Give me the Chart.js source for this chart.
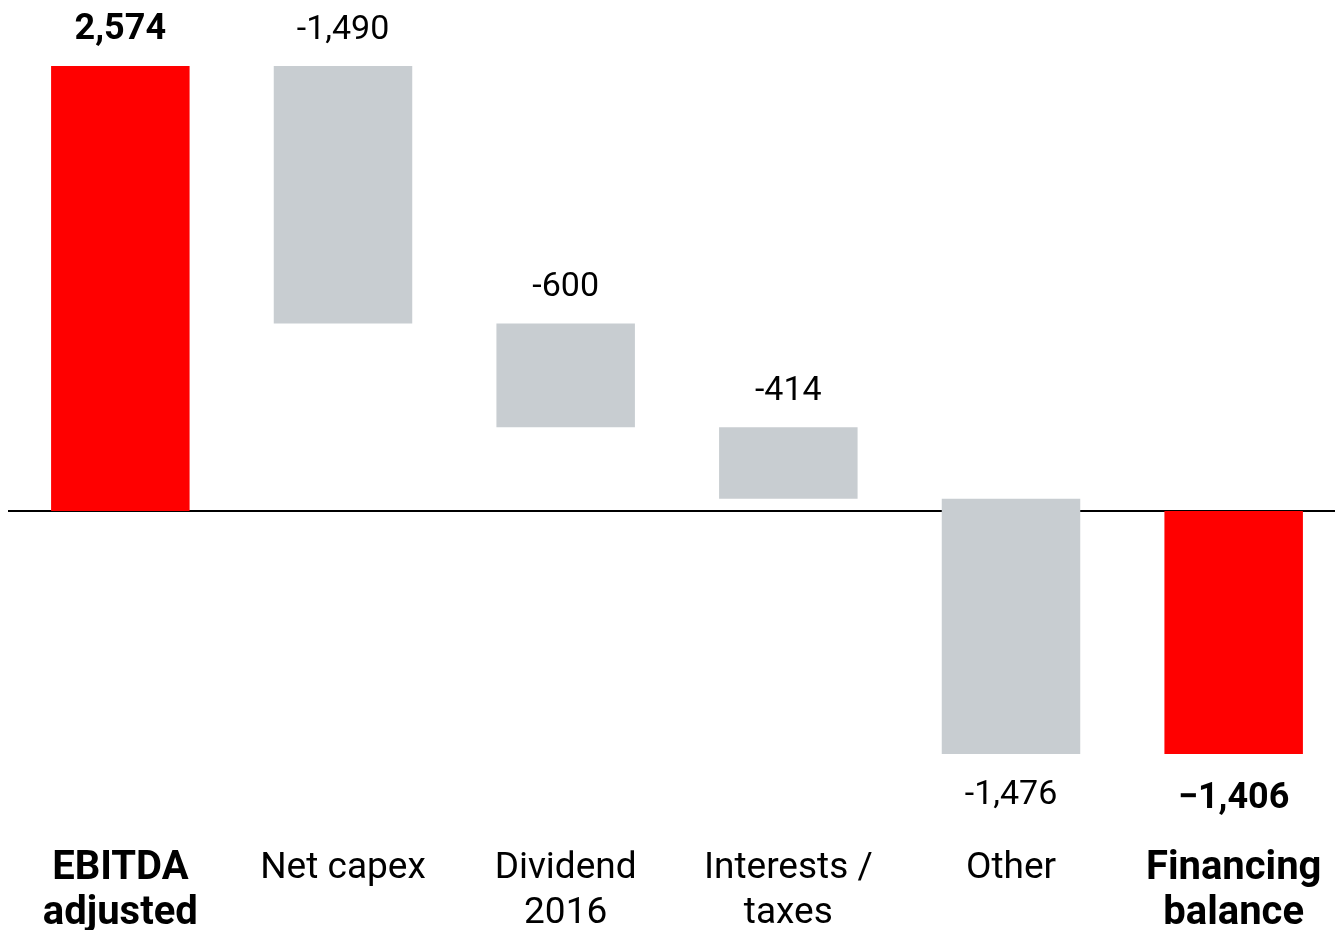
<!DOCTYPE html>
<html>
<head>
<meta charset="utf-8">
<script src="https://cdn.jsdelivr.net/npm/chart.js@4/dist/chart.umd.min.js"></script>
<style>
  html, body { margin: 0; padding: 0; background: #ffffff; overflow: hidden; }
  #wrap { width: 1335px; height: 930px; overflow: hidden; }
  canvas { display: block; }
</style>
</head>
<body>
<div id="wrap"><canvas id="c" width="1345" height="930"></canvas></div>
<script>
// Financing balance bridge (EUR m)
const categories = [
  ['EBITDA', 'adjusted'],
  ['Net capex'],
  ['Dividend', '2016'],
  ['Interests /', 'taxes'],
  ['Other'],
  ['Financing', 'balance']
];
const startValue = 2574;                       // EBITDA adjusted
const changes = [-1490, -600, -414, -1476];    // Net capex, Dividend, Interests/taxes, Other
const endValue = -1406;                        // Financing balance
const valueLabels = ['2,574', '-1,490', '-600', '-414', '-1,476', '−1,406'];
const totalFlags = [true, false, false, false, false, true];

const RED = '#ff0000';
const GREY = '#c8cdd1';
const FONT = 'Roboto, "Open Sans", sans-serif';

// Floating ranges built from the running balance
const ranges = [[0, startValue]];
let running = startValue;
changes.forEach(v => {
  const next = running + v;
  ranges.push([Math.min(running, next), Math.max(running, next)]);
  running = next;
});
ranges.push([Math.min(0, endValue), Math.max(0, endValue)]);
const colors = totalFlags.map(t => t ? RED : GREY);

// Baseline at zero, drawn underneath the bars
const zeroLine = {
  id: 'zeroLine',
  beforeDatasetsDraw(chart) {
    const y = Math.round(chart.scales.y.getPixelForValue(0));
    const ctx = chart.ctx;
    ctx.save();
    ctx.strokeStyle = '#000000';
    ctx.lineWidth = 2;
    ctx.beginPath();
    ctx.moveTo(8, y);
    ctx.lineTo(1335, y);
    ctx.stroke();
    ctx.restore();
  }
};

// Value labels above the bars (below for the ones hanging under zero)
const valueLabelPlugin = {
  id: 'valueLabels',
  afterDatasetsDraw(chart) {
    const ctx = chart.ctx;
    const meta = chart.getDatasetMeta(0);
    ctx.save();
    ctx.fillStyle = '#000000';
    ctx.textAlign = 'center';
    ctx.textBaseline = 'middle';
    meta.data.forEach((bar, i) => {
      const bold = totalFlags[i];
      ctx.font = (bold ? 'bold 36px ' : '34px ') + FONT;
      const r = ranges[i];
      const below = r[0] < 0;
      const top = Math.min(bar.y, bar.base);
      const bottom = Math.max(bar.y, bar.base);
      const y = below ? bottom + (bold ? 45 : 41) : top - 36;
      ctx.fillText(valueLabels[i], bar.x, y);
    });
    ctx.restore();
  }
};

new Chart(document.getElementById('c'), {
  type: 'bar',
  data: {
    labels: categories,
    datasets: [{
      data: ranges,
      backgroundColor: colors,
      borderWidth: 0,
      barPercentage: 1,
      categoryPercentage: 0.622
    }]
  },
  options: {
    responsive: false,
    animation: false,
    layout: { padding: { left: 9, right: 0, top: 66, bottom: 0 } },
    plugins: { legend: { display: false }, tooltip: { enabled: false } },
    scales: {
      x: {
        offset: true,
        grid: { display: false, drawTicks: true, tickLength: 88 },
        border: { display: false },
        ticks: {
          color: '#000000',
          padding: 4,
          maxRotation: 0,
          autoSkip: false,
          font: (ctx) => ({
            family: FONT,
            size: totalFlags[ctx.index] ? 40 : 37,
            lineHeight: '45px',
            weight: totalFlags[ctx.index] ? 'bold' : 'normal'
          })
        },
        afterFit(scale) {
          scale.height = 176;
          scale.paddingLeft = 0;
          scale.paddingRight = 0;
        }
      },
      y: {
        display: false,
        min: endValue,
        max: startValue
      }
    }
  },
  plugins: [zeroLine, valueLabelPlugin]
});
</script>
</body>
</html>
